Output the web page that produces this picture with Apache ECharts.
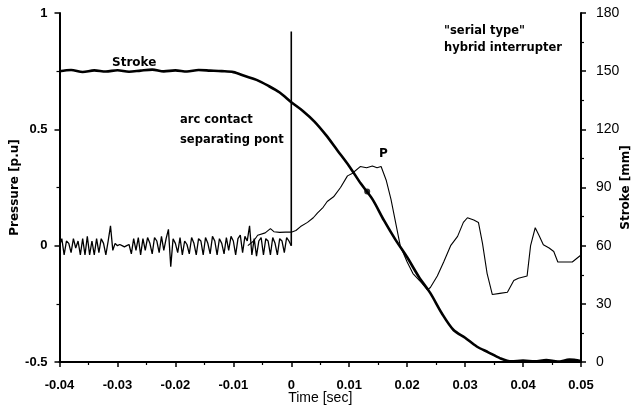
<!DOCTYPE html>
<html><head><meta charset="utf-8">
<script src="https://cdn.jsdelivr.net/npm/echarts@6/dist/echarts.min.js"></script>
<style>html,body{margin:0;padding:0;background:#fff}#c{width:635px;height:407px}</style>
</head><body><div id="c"></div>
<script>
// Time axis ticks (sec), pressure ticks (p.u), stroke ticks (mm)
const xTicks = [-0.04, -0.03, -0.02, -0.01, 0, 0.01, 0.02, 0.03, 0.04, 0.05];
const pressureTicks = [-0.5, 0, 0.5, 1];
const strokeTicks = [0, 30, 60, 90, 120, 150, 180];

// Noisy pressure baseline before contact separation (sampled every 0.0004 s from -0.04 s)
const noiseStart = -0.04, noiseStep = 0.0004;
const noiseP = [0,0.03,-0.04,0.02,0.01,-0.03,0.03,-0.01,0.02,-0.04,
  0.03,-0.04,0.04,-0.04,0.02,-0.04,0.03,-0.03,0.03,0.01,
  -0.04,0.02,0.085,-0.02,0.01,0,0.005,0,-0.005,0,
  0.005,-0.035,0.03,-0.02,0.035,-0.04,0.03,-0.02,0.035,0.01,
  -0.035,0.035,0.02,-0.03,0.04,-0.02,0.03,0.07,-0.09,0.03,
  0.01,-0.03,0.035,-0.04,0.02,0.005,-0.035,0.035,0.01,-0.04,
  0.03,0.02,-0.04,0.035,0.01,-0.035,0.04,0.02,-0.04,0.03,
  0.01,-0.035,0.035,-0.02,0.04,0.02,-0.04,0.03,0.045,-0.03,
  0.04,0.02,0.085,-0.04,0.03,-0.045,0.02,0.035,-0.04,0.03,
  0.02,-0.04,0.035,0.01,-0.04,0.03,0.02,-0.03,0.035,0.02,0];

// Arc contact separating point marker
const sepLine = [[0, 0], [0, 0.92]];

// Pressure [p.u] vs time
const pressure = [[-0.0075,0.0],[-0.0065,0.02],[-0.0058,0.045],[-0.0045,0.055],[-0.0036,0.073],[-0.003,0.06],
  [-0.002,0.057],[-0.001,0.058],[0,0.058],[0.0008,0.065],[0.0016,0.082],[0.0028,0.1],[0.0038,0.12],[0.0045,0.14],
  [0.0055,0.165],[0.0062,0.19],[0.0073,0.21],[0.0085,0.25],[0.0097,0.30],[0.0105,0.31],[0.0119,0.34],[0.013,0.335],
  [0.014,0.342],[0.0148,0.335],[0.0155,0.34],[0.0164,0.28],[0.0172,0.2],[0.0188,0.0],[0.02,-0.07],[0.021,-0.12],
  [0.0225,-0.16],[0.0235,-0.19],[0.024,-0.18],[0.0252,-0.13],[0.0263,-0.07],[0.0275,0],[0.0287,0.04],[0.0297,0.10],
  [0.0304,0.12],[0.0315,0.11],[0.0323,0.10],[0.033,0.01],[0.0338,-0.12],[0.0347,-0.21],[0.036,-0.205],[0.0373,-0.2],
  [0.0384,-0.15],[0.0392,-0.14],[0.0407,-0.13],[0.0413,0],[0.0421,0.077],[0.0427,0.047],[0.0435,0.004],[0.0445,-0.01],
  [0.0453,-0.025],[0.046,-0.07],[0.0485,-0.07],[0.05,-0.04]];

// Stroke [mm] vs time
const stroke = [[-0.04,150],[-0.038,150.6],[-0.036,149.6],[-0.034,150.4],[-0.032,149.8],[-0.03,150.5],[-0.028,149.7],
  [-0.026,150.3],[-0.024,150.8],[-0.022,149.9],[-0.02,150.4],[-0.018,149.8],[-0.016,150.6],[-0.014,150.3],[-0.012,150],
  [-0.01,149.5],[-0.008,147.5],[-0.006,145.5],[-0.004,142.5],[-0.002,139],[0,134],[0.002,129.5],[0.004,124],[0.006,117],
  [0.008,109],[0.01,101],[0.012,92],[0.014,84],[0.016,73],[0.018,63],[0.02,54],[0.022,44],[0.024,35.5],[0.026,25],
  [0.028,16.5],[0.03,12.5],[0.032,8],[0.034,5],[0.036,2],[0.038,0.3],[0.04,0.8],[0.042,0.3],[0.044,1],[0.046,0.2],
  [0.048,1.2],[0.05,0.5]];
const strokeDot = [[0.0131, 88]];

const noise = noiseP.map((p, i) => [noiseStart + noiseStep * i, p]);

const BOLD = '"DejaVu Sans", sans-serif';
const REG = '"Liberation Sans", Arial, sans-serif';
const axisLine = {show: true, onZero: false, lineStyle: {color: '#000', width: 2}};
const axisTick = {show: true, length: 5, lineStyle: {color: '#000', width: 1.5}};
const minorTick = {show: true, splitNumber: 2, length: 3, lineStyle: {color: '#000', width: 1.2}};

const chart = echarts.init(document.getElementById('c'), null, {renderer: 'canvas'});
chart.setOption({
  animation: false,
  backgroundColor: '#fff',
  grid: {left: 59.5, right: 54, top: 13, bottom: 45, containLabel: false, outerBoundsMode: 'none'},
  xAxis: {
    type: 'value', min: xTicks[0], max: xTicks[xTicks.length - 1], interval: 0.01,
    name: 'Time [sec]', nameLocation: 'middle', nameGap: 29, nameMoveOverlap: false,
    nameTextStyle: {fontFamily: REG, fontSize: 14, color: '#000'},
    axisLine, axisTick, minorTick, splitLine: {show: false}, minorSplitLine: {show: false},
    axisLabel: {color: '#000', fontFamily: REG, fontWeight: 'bold', fontSize: 13, margin: 17,
      formatter: v => { const r = Math.round(v * 100) / 100; return r === 0 ? '0' : r.toFixed(2); }}
  },
  yAxis: [{
    type: 'value', min: pressureTicks[0], max: pressureTicks[pressureTicks.length - 1], interval: 0.5,
    name: 'Pressure [p.u]', nameLocation: 'middle', nameGap: 39, nameRotate: 90, nameMoveOverlap: false,
    nameTextStyle: {fontFamily: BOLD, fontWeight: 'bold', fontSize: 12, color: '#000'},
    axisLine, axisTick, minorTick, splitLine: {show: false},
    axisLabel: {color: '#000', fontFamily: REG, fontWeight: 'bold', fontSize: 13, margin: 12,
      formatter: v => String(Math.round(v * 10) / 10)}
  }, {
    type: 'value', position: 'right', min: strokeTicks[0], max: strokeTicks[strokeTicks.length - 1], interval: 30,
    name: 'Stroke [mm]', nameLocation: 'middle', nameGap: 39, nameRotate: 90, nameMoveOverlap: false,
    nameTextStyle: {fontFamily: BOLD, fontWeight: 'bold', fontSize: 12, color: '#000'},
    axisLine, axisTick, minorTick, splitLine: {show: false},
    axisLabel: {color: '#000', fontFamily: REG, fontSize: 14, margin: 15}
  }],
  series: [
    {type: 'line', yAxisIndex: 0, data: noise, symbol: 'none', lineStyle: {color: '#000', width: 1.3}},
    {type: 'line', yAxisIndex: 0, data: sepLine, symbol: 'none', lineStyle: {color: '#000', width: 1.6}},
    {type: 'line', yAxisIndex: 0, data: pressure, symbol: 'none', lineStyle: {color: '#000', width: 1.1}},
    {type: 'line', yAxisIndex: 1, data: stroke, symbol: 'none', smooth: 0.3, lineStyle: {color: '#000', width: 2.6}},
    {type: 'scatter', yAxisIndex: 1, data: strokeDot, symbolSize: 6, itemStyle: {color: '#000'}}
  ],
  graphic: [
    {type: 'text', left: 112, top: 57, style: {text: 'Stroke', font: 'bold 12px ' + BOLD, fill: '#000'}},
    {type: 'text', left: 180, top: 110, style: {text: 'arc contact\nseparating pont', font: 'bold 11.5px ' + BOLD, fill: '#000', lineHeight: 20}},
    {type: 'text', left: 444, top: 23, style: {text: '"serial type"\nhybrid interrupter', font: 'bold 11.5px ' + BOLD, fill: '#000', lineHeight: 17}},
    {type: 'text', left: 379, top: 148, style: {text: 'P', font: 'bold 12px ' + BOLD, fill: '#000'}}
  ]
});
</script>
</body></html>
